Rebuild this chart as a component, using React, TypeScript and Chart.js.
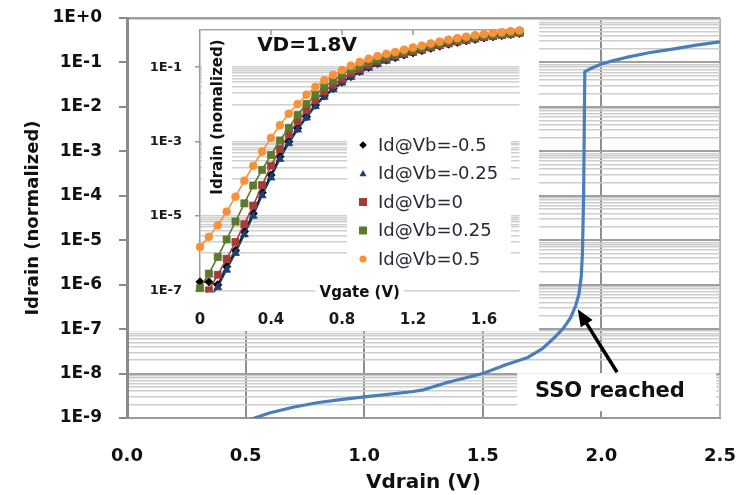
import React, { useEffect, useRef } from 'react';
import { Chart, registerables } from 'chart.js';

Chart.register(...registerables);

const FONT = "'DejaVu Sans', 'Noto Sans', sans-serif";

// ---------- main chart data ----------
const mainVdrain = [0.5, 0.6, 0.7, 0.8, 0.9, 1.0, 1.1, 1.2, 1.25, 1.35, 1.5, 1.6, 1.69, 1.75, 1.8, 1.84, 1.87, 1.89, 1.905, 1.915, 1.92, 1.925, 1.93, 1.96, 2.0, 2.05, 2.1, 2.2, 2.3, 2.4, 2.5];
const mainIdrain = [8.5e-10, 1.3e-9, 1.75e-9, 2.2e-9, 2.6e-9, 3.0e-9, 3.4e-9, 3.9e-9, 4.3e-9, 6.3e-9, 1.0e-8, 1.6e-8, 2.3e-8, 3.6e-8, 6.3e-8, 1.05e-7, 1.8e-7, 3.2e-7, 6.0e-7, 1.5e-6, 5e-6, 1e-4, 6.2e-2, 7.5e-2, 9.2e-2, 0.11, 0.128, 0.165, 0.2, 0.245, 0.29];
const mainXTickValues = [0, 0.5, 1, 1.5, 2, 2.5];
const mainXTickLabels = ['0.0', '0.5', '1.0', '1.5', '2.0', '2.5'];
const mainYDecades = [1e-9, 1e-8, 1e-7, 1e-6, 1e-5, 1e-4, 1e-3, 1e-2, 1e-1, 1];
const mainYTickLabels = ['1E-9', '1E-8', '1E-7', '1E-6', '1E-5', '1E-4', '1E-3', '1E-2', '1E-1', '1E+0'];
const mainMinorSteps = [2, 3, 4, 5, 6, 7, 8, 9];
const mainXTitle = 'Vdrain (V)';
const mainYTitle = 'Idrain (normalized)';

// annotation
const ssoText = 'SSO reached';
const ssoBox = { x0: 1.645, x1: 2.484, y0: 1.02e-8, y1: 1.43e-9 };
const ssoTextPos = { x: 2.036, y: 3.84e-9 };
const ssoArrowTip = { x: 1.9, y: 2.8e-7 };
const ssoArrowTail = { x: 2.066, y: 1.07e-8 };

// ---------- inset data (log10 of Idrain as read) ----------
const vgate = [0, 0.05, 0.1, 0.15, 0.2, 0.25, 0.3, 0.35, 0.4, 0.45, 0.5, 0.55, 0.6, 0.65, 0.7, 0.75, 0.8, 0.85, 0.9, 0.95, 1.0, 1.05, 1.1, 1.15, 1.2, 1.25, 1.3, 1.35, 1.4, 1.45, 1.5, 1.55, 1.6, 1.65, 1.7, 1.75, 1.8];
const logIdVbM050 = [-6.77, -6.77, -6.85, -6.36, -5.93, -5.42, -4.93, -4.37, -3.90, -3.40, -3.00, -2.64, -2.33, -2.02, -1.77, -1.57, -1.40, -1.25, -1.11, -1.00, -0.90, -0.81, -0.74, -0.67, -0.61, -0.55, -0.49, -0.43, -0.38, -0.33, -0.29, -0.25, -0.21, -0.18, -0.15, -0.12, -0.09];
const logIdVbM025 = [-7.40, -7.20, -6.92, -6.45, -6.00, -5.50, -5.00, -4.45, -3.97, -3.47, -3.05, -2.68, -2.36, -2.05, -1.80, -1.60, -1.42, -1.27, -1.13, -1.02, -0.92, -0.83, -0.75, -0.68, -0.62, -0.56, -0.50, -0.44, -0.39, -0.34, -0.30, -0.26, -0.22, -0.19, -0.16, -0.13, -0.10];
const logIdVb000 = [-7.30, -7.00, -6.58, -6.15, -5.70, -5.22, -4.72, -4.17, -3.65, -3.20, -2.80, -2.45, -2.15, -1.88, -1.65, -1.47, -1.31, -1.16, -1.04, -0.93, -0.84, -0.76, -0.69, -0.63, -0.57, -0.51, -0.45, -0.40, -0.35, -0.30, -0.26, -0.22, -0.19, -0.16, -0.13, -0.10, -0.07];
const logIdVb025 = [-6.94, -6.55, -6.10, -5.63, -5.15, -4.66, -4.18, -3.76, -3.36, -2.97, -2.63, -2.28, -1.99, -1.74, -1.53, -1.36, -1.20, -1.07, -0.96, -0.86, -0.78, -0.71, -0.65, -0.59, -0.53, -0.47, -0.41, -0.36, -0.31, -0.27, -0.23, -0.19, -0.16, -0.13, -0.10, -0.08, -0.05];
const logIdVb050 = [-5.83, -5.56, -5.25, -4.88, -4.48, -4.05, -3.65, -3.27, -2.90, -2.56, -2.25, -1.99, -1.74, -1.53, -1.35, -1.21, -1.08, -0.96, -0.86, -0.77, -0.70, -0.64, -0.59, -0.53, -0.47, -0.42, -0.36, -0.31, -0.26, -0.22, -0.18, -0.14, -0.11, -0.08, -0.06, -0.03, -0.01];
const insetSeriesNames = ['Id@Vb=-0.5', 'Id@Vb=-0.25', 'Id@Vb=0', 'Id@Vb=0.25', 'Id@Vb=0.5'];
const insetSeriesLogs = [logIdVbM050, logIdVbM025, logIdVb000, logIdVb025, logIdVb050];
const insetXTickValues = [0, 0.4, 0.8, 1.2, 1.6];
const insetXTickLabels = ['0', '0.4', '0.8', '1.2', '1.6'];
const insetYLabelValues = [1e-7, 1e-5, 1e-3, 1e-1];
const insetYTickLabels = ['1E-7', '1E-5', '1E-3', '1E-1'];
const insetGridDecades = [1e-6, 1e-4, 1e-2];
const insetGridSteps = [1, 2, 3, 4, 5, 6, 7, 8, 9, 10];
const insetXTitle = 'Vgate (V)';
const insetYTitle = 'Idrain (nomalized)';
const insetNote = 'VD=1.8V';

const insetStyles = [
  { color: '#000000', point: 'rectRot', radius: 4.2, legendSize: 3.8 },
  { color: '#1f3f73', point: 'triangle', radius: 4.6, legendSize: 3.6 },
  { color: '#a33d3a', point: 'rect', radius: 5, legendSize: 4 },
  { color: '#5b7a2c', point: 'rect', radius: 5, legendSize: 4 },
  { color: '#f7923a', point: 'circle', radius: 3.9, legendSize: 3.6 },
];

const sameVal = (a: number, b: number) => Math.abs(Math.log10(a) - Math.log10(b)) < 1e-6;
const isDecade = (v: number) => Math.abs(Math.log10(v) - Math.round(Math.log10(v))) < 1e-6;

const mainYTicks: number[] = [];
mainYDecades.forEach((d) => {
  mainYTicks.push(d);
  if (d < 1) mainMinorSteps.forEach((k) => mainYTicks.push(d * k));
});
mainYTicks.sort((a, b) => a - b);

const insetYTicks: number[] = [1e-7];
insetGridDecades.forEach((d) => insetGridSteps.forEach((k) => insetYTicks.push(d * k)));
insetYTicks.push(1);

function zeroPad(s: any) {
  s.paddingTop = 0;
  s.paddingBottom = 0;
  s.paddingLeft = 0;
  s.paddingRight = 0;
}

function drawMarker(ctx: CanvasRenderingContext2D, style: string, x: number, y: number, s: number, color: string) {
  ctx.fillStyle = color;
  ctx.beginPath();
  if (style === 'rectRot') {
    ctx.moveTo(x, y - s); ctx.lineTo(x + s, y); ctx.lineTo(x, y + s); ctx.lineTo(x - s, y);
  } else if (style === 'triangle') {
    ctx.moveTo(x, y - s); ctx.lineTo(x + s, y + s * 0.75); ctx.lineTo(x - s, y + s * 0.75);
  } else if (style === 'rect') {
    ctx.rect(x - s, y - s, 2 * s, 2 * s);
  } else {
    ctx.arc(x, y, s, 0, Math.PI * 2);
  }
  ctx.closePath();
  ctx.fill();
}

const mainDecor = {
  id: 'mainDecor',
  beforeDatasetsDraw(chart: any) {
    const { ctx, scales: { x, y } } = chart;
    const x0 = x.getPixelForValue(ssoBox.x0);
    const x1 = x.getPixelForValue(ssoBox.x1);
    const y0 = y.getPixelForValue(ssoBox.y0);
    const y1 = y.getPixelForValue(ssoBox.y1);
    ctx.save();
    ctx.fillStyle = '#ffffff';
    ctx.fillRect(x0, y0, x1 - x0, y1 - y0);
    ctx.restore();
  },
  afterDatasetsDraw(chart: any) {
    const { ctx, scales: { x, y } } = chart;
    const tx = x.getPixelForValue(ssoArrowTip.x);
    const ty = y.getPixelForValue(ssoArrowTip.y);
    const sx = x.getPixelForValue(ssoArrowTail.x);
    const sy = y.getPixelForValue(ssoArrowTail.y);
    const ang = Math.atan2(ty - sy, tx - sx);
    const headLen = 17;
    const headW = 7;
    const bx = tx - headLen * Math.cos(ang);
    const by = ty - headLen * Math.sin(ang);
    ctx.save();
    ctx.strokeStyle = '#000';
    ctx.fillStyle = '#000';
    ctx.lineWidth = 3.5;
    ctx.beginPath();
    ctx.moveTo(sx, sy);
    ctx.lineTo(bx + 3 * Math.cos(ang), by + 3 * Math.sin(ang));
    ctx.stroke();
    ctx.beginPath();
    ctx.moveTo(tx, ty);
    ctx.lineTo(bx + headW * Math.sin(ang), by - headW * Math.cos(ang));
    ctx.lineTo(bx - headW * Math.sin(ang), by + headW * Math.cos(ang));
    ctx.closePath();
    ctx.fill();
    ctx.font = `bold 21px ${FONT}`;
    ctx.fillStyle = '#111';
    ctx.textAlign = 'center';
    ctx.textBaseline = 'middle';
    ctx.fillText(ssoText, x.getPixelForValue(ssoTextPos.x), y.getPixelForValue(ssoTextPos.y));
    ctx.restore();
  },
};

const insetDecor = {
  id: 'insetDecor',
  beforeDatasetsDraw(chart: any) {
    const { ctx, chartArea: a, scales: { x } } = chart;
    ctx.save();
    ctx.strokeStyle = '#9a9a9a';
    ctx.lineWidth = 1.5;
    insetXTickValues.forEach((v) => {
      if (v <= 0) return;
      const px = x.getPixelForValue(v);
      ctx.beginPath();
      ctx.moveTo(px, a.top);
      ctx.lineTo(px, a.top + 5);
      ctx.stroke();
    });
    ctx.fillStyle = '#ffffff';
    ctx.fillRect(a.left + 2, a.top + 3, 30, 167);
    ctx.fillRect(a.left + 147, a.top + 98, 164, 144);
    ctx.font = `bold 15px ${FONT}`;
    const tw = ctx.measureText(insetXTitle).width;
    const cx = (a.left + a.right) / 2;
    ctx.fillRect(cx - tw / 2 - 4, a.bottom - 3, tw + 8, 14);
    ctx.restore();
  },
  afterDatasetsDraw(chart: any) {
    const { ctx, chartArea: a } = chart;
    ctx.save();
    ctx.fillStyle = '#111';
    ctx.textAlign = 'center';
    ctx.textBaseline = 'middle';
    ctx.font = `bold 15px ${FONT}`;
    ctx.fillText(insetXTitle, (a.left + a.right) / 2, a.bottom + 3);
    ctx.font = `bold 20px ${FONT}`;
    ctx.fillText(insetNote, a.left + 107, a.top + 16);
    ctx.save();
    ctx.translate(a.left + 18, a.top + 87);
    ctx.rotate(-Math.PI / 2);
    ctx.font = `bold 15px ${FONT}`;
    ctx.fillText(insetYTitle, 0, 0);
    ctx.restore();
    ctx.textAlign = 'left';
    ctx.font = `18px ${FONT}`;
    insetSeriesNames.forEach((name, i) => {
      const yy = a.top + 115 + i * 28.5;
      const st = insetStyles[i];
      drawMarker(ctx, st.point, a.left + 163, yy, st.legendSize, st.color);
      ctx.fillStyle = '#2a2838';
      ctx.fillText(name, a.left + 178, yy + 1);
    });
    ctx.restore();
  },
};

export default function App() {
  const mainRef = useRef<HTMLCanvasElement>(null);
  const insetRef = useRef<HTMLCanvasElement>(null);

  useEffect(() => {
    const tickFont = (size: number) => ({ family: FONT, size, weight: 'bold' as const });

    const main = new Chart(mainRef.current as HTMLCanvasElement, {
      type: 'scatter',
      data: {
        datasets: [
          {
            data: mainVdrain.map((v, i) => ({ x: v, y: mainIdrain[i] })),
            showLine: true,
            borderColor: '#4a7ebb',
            backgroundColor: '#4a7ebb',
            borderWidth: 3.2,
            pointRadius: 0,
            tension: 0,
            borderJoinStyle: 'round',
          },
        ],
      },
      options: {
        animation: false,
        responsive: false,
        layout: { padding: { top: 18, right: 33, left: 0, bottom: 0 } },
        plugins: { legend: { display: false }, tooltip: { enabled: false } },
        scales: {
          x: {
            type: 'linear',
            min: 0,
            max: 2.5,
            afterBuildTicks: (s: any) => { s.ticks = mainXTickValues.map((v) => ({ value: v })); },
            afterFit: (s: any) => { s.height = 77; zeroPad(s); },
            ticks: {
              callback: (_v: any, i: number) => mainXTickLabels[i],
              padding: 28,
              autoSkip: false,
              maxRotation: 0,
              font: tickFont(18),
              color: '#111',
            },
            grid: {
              color: (c: any) => {
                const v = c.tick ? c.tick.value : 1;
                if (v === 0) return 'rgba(0,0,0,0)';
                if (v === 2.5) return '#b3b3b3';
                return '#8f8f8f';
              },
              lineWidth: 2,
              drawTicks: false,
            },
            border: { display: true, color: '#9a9a9a', width: 2 },
            title: { display: true, text: mainXTitle, font: tickFont(20), color: '#111', padding: 0 },
          },
          y: {
            type: 'logarithmic',
            min: 1e-9,
            max: 1,
            afterBuildTicks: (s: any) => { s.ticks = mainYTicks.map((v) => ({ value: v })); },
            afterFit: (s: any) => { s.width = 127; zeroPad(s); },
            ticks: {
              callback: (v: any) => {
                const idx = mainYDecades.findIndex((d) => sameVal(d, Number(v)));
                return idx >= 0 ? mainYTickLabels[idx] : '';
              },
              padding: 17,
              autoSkip: false,
              font: tickFont(17),
              color: '#111',
            },
            grid: {
              color: (c: any) => (c.tick && isDecade(c.tick.value) ? '#a0a0a0' : '#cdcdcd'),
              lineWidth: (c: any) => (c.tick && isDecade(c.tick.value) ? 2 : 1.5),
              tickColor: (c: any) => (c.tick && isDecade(c.tick.value) ? '#8a8a8a' : 'rgba(0,0,0,0)'),
              tickLength: 8,
              tickWidth: 2,
            },
            border: { color: '#8a8a8a', width: 3 },
            title: { display: true, text: mainYTitle, font: tickFont(18), color: '#111', padding: { top: 23, bottom: 0 } },
          },
        },
      },
      plugins: [mainDecor],
    } as any);

    const inset = new Chart(insetRef.current as HTMLCanvasElement, {
      type: 'scatter',
      data: {
        datasets: insetSeriesLogs.map((logs, i) => ({
          label: insetSeriesNames[i],
          data: vgate.map((v, j) => ({ x: v, y: Math.pow(10, logs[j]) })),
          showLine: true,
          borderColor: insetStyles[i].color,
          backgroundColor: insetStyles[i].color,
          pointBackgroundColor: insetStyles[i].color,
          pointBorderColor: insetStyles[i].color,
          pointStyle: insetStyles[i].point,
          pointRadius: insetStyles[i].radius,
          pointBorderWidth: 0.8,
          borderWidth: 1.6,
          order: insetSeriesLogs.length - 1 - i,
          clip: { left: 6, top: 6, right: 6, bottom: 2 },
        })),
      },
      options: {
        animation: false,
        responsive: false,
        layout: { padding: { top: 10, right: 19.5, left: 0, bottom: 0 } },
        plugins: { legend: { display: false }, tooltip: { enabled: false } },
        scales: {
          x: {
            type: 'linear',
            min: 0,
            max: 1.8,
            afterBuildTicks: (s: any) => { s.ticks = insetXTickValues.map((v) => ({ value: v })); },
            afterFit: (s: any) => { s.height = 40.6; zeroPad(s); },
            ticks: {
              callback: (_v: any, i: number) => insetXTickLabels[i],
              padding: 20.6,
              autoSkip: false,
              maxRotation: 0,
              font: tickFont(15),
              color: '#1a1a1a',
            },
            grid: { display: false, drawTicks: false },
            border: { display: false },
          },
          y: {
            type: 'logarithmic',
            min: 1e-7,
            max: 1,
            afterBuildTicks: (s: any) => { s.ticks = insetYTicks.map((v) => ({ value: v })); },
            afterFit: (s: any) => { s.width = 71; zeroPad(s); },
            ticks: {
              callback: (v: any) => {
                const idx = insetYLabelValues.findIndex((d) => sameVal(d, Number(v)));
                return idx >= 0 ? insetYTickLabels[idx] : '';
              },
              padding: 13,
              autoSkip: false,
              font: tickFont(13),
              color: '#1a1a1a',
            },
            grid: {
              color: (c: any) => (c.tick && sameVal(c.tick.value, 1) ? '#a6a6a6' : '#cfcfcf'),
              lineWidth: 1.5,
              tickColor: (c: any) =>
                c.tick && insetYLabelValues.some((d) => sameVal(d, c.tick.value)) ? '#9a9a9a' : 'rgba(0,0,0,0)',
              tickLength: 5,
              tickWidth: 1.5,
            },
            border: { color: '#9a9a9a', width: 1.5 },
          },
        },
      },
      plugins: [insetDecor],
    } as any);

    return () => {
      main.destroy();
      inset.destroy();
    };
  }, []);

  return (
    <div style={{ position: 'absolute', left: 0, top: 0, width: 753, height: 495, background: '#ffffff' }}>
      <canvas ref={mainRef} width={753} height={495} style={{ position: 'absolute', left: 0, top: 0 }} />
      <canvas
        ref={insetRef}
        width={410}
        height={311}
        style={{ position: 'absolute', left: 129, top: 20, background: '#ffffff' }}
      />
    </div>
  );
}
